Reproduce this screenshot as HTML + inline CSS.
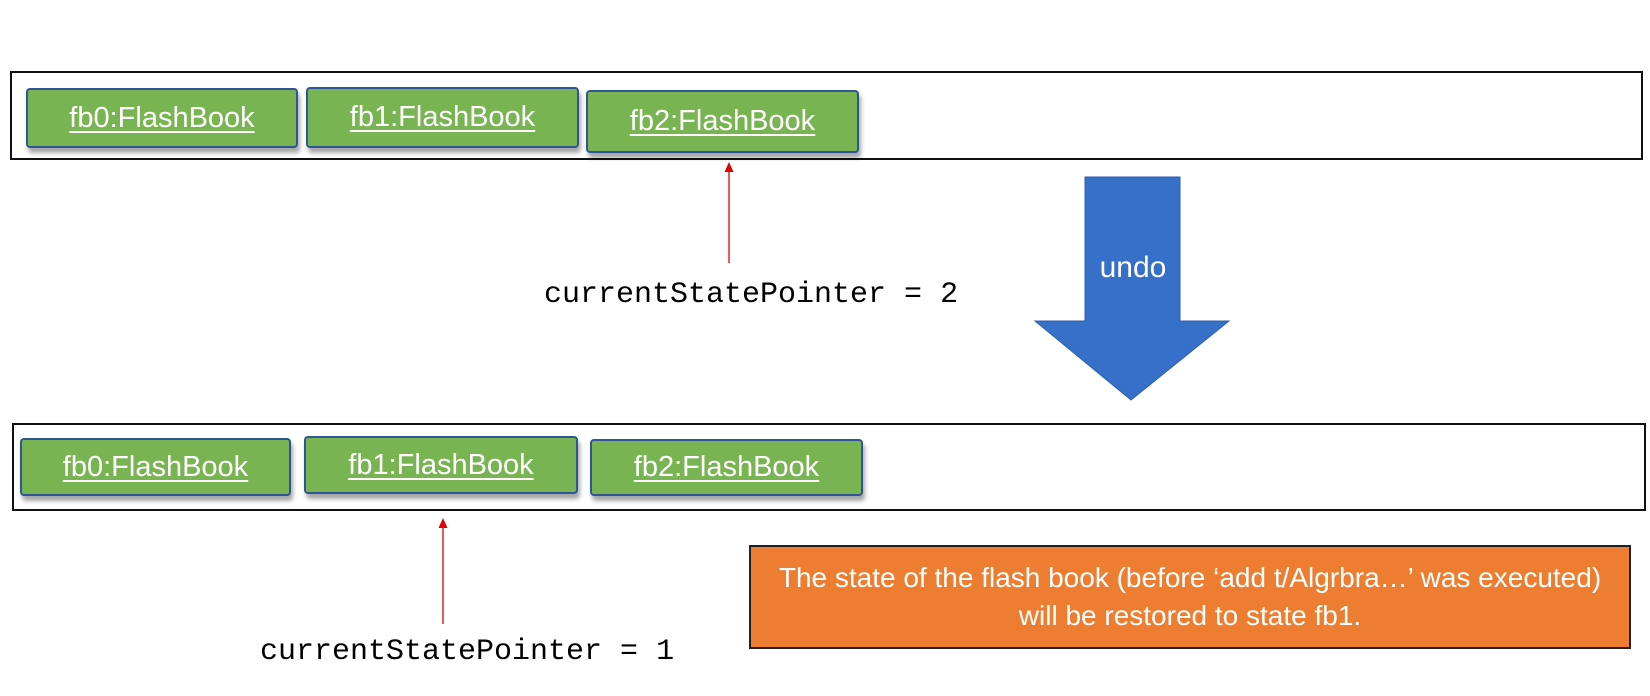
<!DOCTYPE html>
<html><head><meta charset="utf-8"><style>
body{margin:0;width:1650px;height:696px;background:#fff;position:relative;overflow:hidden;font-family:"Liberation Sans",sans-serif}
.c{position:absolute;border:2px solid #111;box-sizing:border-box;background:#fff}
.b{position:absolute;background:#79b453;border:2px solid #2f5597;border-radius:4px;box-sizing:border-box;color:#fff;font-size:29px;display:flex;align-items:center;justify-content:center;box-shadow:2px 5px 4px rgba(0,0,0,0.35)}
.b span{text-decoration:underline;text-underline-offset:4px}
.m{position:absolute;font-family:"Liberation Mono",monospace;font-size:30px;color:#000;white-space:nowrap;line-height:1}
</style></head><body>
<div class="c" style="left:10px;top:71px;width:1633px;height:89px"></div>
<div class="b" style="left:26px;top:88px;width:272px;height:60px"><span>fb0:FlashBook</span></div>
<div class="b" style="left:306px;top:87px;width:273px;height:61px"><span>fb1:FlashBook</span></div>
<div class="b" style="left:586px;top:90px;width:273px;height:63px"><span>fb2:FlashBook</span></div>

<div class="c" style="left:12px;top:423px;width:1634px;height:88px"></div>
<div class="b" style="left:20px;top:438px;width:271px;height:58px"><span>fb0:FlashBook</span></div>
<div class="b" style="left:304px;top:436px;width:274px;height:58px"><span>fb1:FlashBook</span></div>
<div class="b" style="left:590px;top:439px;width:273px;height:57px"><span>fb2:FlashBook</span></div>

<svg style="position:absolute;left:0;top:0" width="1650" height="696">
<line x1="729" y1="263" x2="729" y2="170" stroke="#e00000" stroke-width="1.3"/>
<polygon points="729,162 724.5,172 733.5,172" fill="#e00000"/>
<line x1="443" y1="624" x2="443" y2="526" stroke="#e00000" stroke-width="1.3"/>
<polygon points="443,518 438.5,528 447.5,528" fill="#e00000"/>
<polygon points="1085,177 1180,177 1180,321 1229,321 1131,400 1035,321 1085,321" fill="#3670c8" stroke="#2f5fa8" stroke-width="1"/>
<text x="1133" y="277" fill="#fff" font-size="30" text-anchor="middle" font-family="Liberation Sans,sans-serif">undo</text>
</svg>

<div class="m" style="left:544px;top:280px">currentStatePointer = 2</div>
<div class="m" style="left:260px;top:637px">currentStatePointer = 1</div>

<div style="position:absolute;left:749px;top:545px;width:882px;height:104px;background:#ed7d31;border:2px solid #222;box-sizing:border-box;color:#fff;font-size:28px;text-align:center;line-height:38px;padding-top:12px;white-space:nowrap">The state of the flash book (before ‘add t/Algrbra…’ was executed)<br>will be restored to state fb1.</div>
</body></html>
